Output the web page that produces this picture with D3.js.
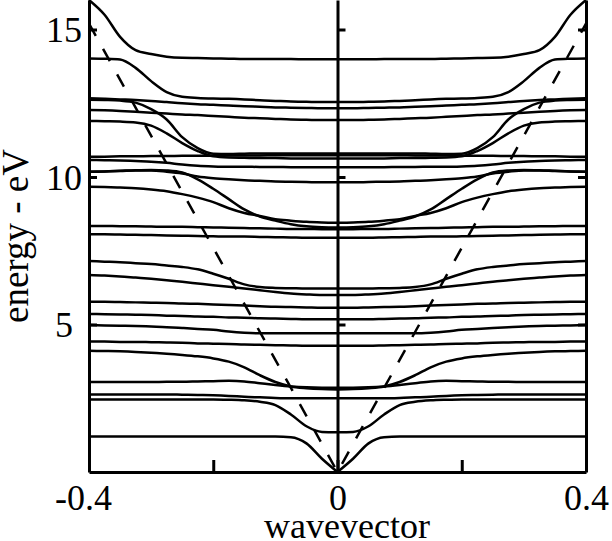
<!DOCTYPE html>
<html>
<head>
<meta charset="utf-8">
<script src="https://cdn.jsdelivr.net/npm/d3@7"></script>
<style>
    body { margin: 0; background: #fff; }
    #chart-area text { font-family: "Liberation Serif", "Times New Roman", serif; fill: #000; }
</style>
</head>
<body>
<div id="chart-area"></div>
<script>

// wavevector grid (half of the zone, mirrored for negative k)
const kGrid = [0, 0.025, 0.05, 0.075, 0.1, 0.125, 0.15, 0.175, 0.2, 0.225, 0.25, 0.275, 0.3, 0.325, 0.35, 0.375, 0.4];

// band energies (eV) at each kGrid value
const band01 = [0, 0.45, 0.97, 1.18, 1.20, 1.20, 1.20, 1.20, 1.20, 1.20, 1.20, 1.20, 1.20, 1.20, 1.20, 1.20, 1.20];
const band02 = [1.35, 1.36, 1.55, 1.95, 2.27, 2.38, 2.43, 2.45, 2.46, 2.46, 2.46, 2.46, 2.46, 2.46, 2.46, 2.46, 2.46];
const band03 = [2.50, 2.50, 2.50, 2.50, 2.51, 2.53, 2.55, 2.58, 2.60, 2.61, 2.62, 2.63, 2.63, 2.63, 2.63, 2.63, 2.63];
const band04 = [2.86, 2.86, 2.87, 2.90, 2.95, 3.01, 3.07, 3.09, 3.08, 3.07, 3.06, 3.06, 3.05, 3.05, 3.05, 3.05, 3.05];
const band05 = [2.80, 2.81, 2.84, 2.90, 3.05, 3.28, 3.55, 3.74, 3.85, 3.92, 3.97, 4.01, 4.04, 4.07, 4.09, 4.10, 4.11];
const band06 = [4.28, 4.28, 4.28, 4.29, 4.30, 4.31, 4.32, 4.34, 4.35, 4.36, 4.38, 4.39, 4.40, 4.41, 4.41, 4.42, 4.42];
const band07 = [4.70, 4.70, 4.70, 4.70, 4.70, 4.70, 4.72, 4.76, 4.82, 4.85, 4.88, 4.91, 4.93, 4.95, 4.96, 4.97, 4.98];
const band08 = [5.18, 5.18, 5.18, 5.19, 5.20, 5.21, 5.23, 5.24, 5.26, 5.27, 5.29, 5.30, 5.32, 5.33, 5.34, 5.35, 5.36];
const band09 = [5.57, 5.57, 5.58, 5.59, 5.60, 5.62, 5.64, 5.66, 5.68, 5.70, 5.71, 5.73, 5.74, 5.75, 5.76, 5.77, 5.77];
const band10 = [6.00, 6.00, 6.02, 6.05, 6.10, 6.16, 6.22, 6.28, 6.33, 6.39, 6.45, 6.50, 6.55, 6.59, 6.63, 6.66, 6.68];
const band11 = [6.22, 6.22, 6.22, 6.23, 6.24, 6.27, 6.36, 6.55, 6.72, 6.87, 6.95, 7.00, 7.05, 7.08, 7.11, 7.13, 7.15];
const band12 = [7.94, 7.94, 7.94, 7.95, 7.96, 7.97, 7.98, 7.98, 7.99, 8.00, 8.01, 8.02, 8.03, 8.04, 8.05, 8.06, 8.06];
const band13 = [8.23, 8.23, 8.24, 8.24, 8.25, 8.26, 8.27, 8.28, 8.29, 8.30, 8.31, 8.31, 8.32, 8.33, 8.33, 8.34, 8.34];
const band14 = [8.45, 8.46, 8.48, 8.52, 8.57, 8.68, 8.78, 8.94, 9.15, 9.30, 9.42, 9.52, 9.58, 9.62, 9.64, 9.66, 9.67];
const band15 = [8.29, 8.30, 8.33, 8.40, 8.52, 8.66, 8.90, 9.25, 9.60, 9.92, 10.15, 10.22, 10.24, 10.23, 10.21, 10.19, 10.18];
const band16 = [9.82, 9.82, 9.83, 9.84, 9.85, 9.87, 9.89, 9.92, 9.96, 10.02, 10.12, 10.18, 10.22, 10.22, 10.20, 10.19, 10.18];
const band17 = [10.33, 10.33, 10.33, 10.33, 10.34, 10.34, 10.35, 10.35, 10.36, 10.38, 10.42, 10.48, 10.52, 10.54, 10.56, 10.57, 10.58];
const band18 = [10.74, 10.74, 10.74, 10.74, 10.74, 10.73, 10.73, 10.73, 10.72, 10.72, 10.72, 10.71, 10.71, 10.70, 10.70, 10.69, 10.69];
const band19 = [10.63, 10.63, 10.63, 10.63, 10.64, 10.64, 10.65, 10.66, 10.70, 10.88, 11.15, 11.48, 11.74, 11.85, 11.88, 11.89, 11.90];
const band20 = [10.80, 10.80, 10.80, 10.80, 10.80, 10.80, 10.79, 10.78, 10.79, 10.98, 11.35, 11.95, 12.30, 12.52, 12.59, 12.61, 12.62];
const band21 = [11.93, 11.93, 11.94, 11.95, 11.97, 11.99, 12.01, 12.04, 12.07, 12.10, 12.12, 12.15, 12.18, 12.21, 12.24, 12.26, 12.27];
const band22 = [12.33, 12.33, 12.34, 12.35, 12.36, 12.38, 12.40, 12.42, 12.45, 12.47, 12.50, 12.54, 12.58, 12.61, 12.63, 12.65, 12.67];
const band23 = [12.54, 12.54, 12.55, 12.56, 12.58, 12.60, 12.63, 12.65, 12.66, 12.68, 12.72, 12.88, 13.25, 13.70, 13.98, 14.01, 14.02];
const band24 = [13.99, 13.99, 13.99, 14.00, 14.00, 14.00, 14.00, 14.01, 14.02, 14.03, 14.04, 14.08, 14.17, 14.30, 14.75, 15.50, 16.00];

const bands = [band01, band02, band03, band04, band05, band06, band07, band08, band09, band10, band11, band12,
    band13, band14, band15, band16, band17, band18, band19, band20, band21, band22, band23, band24];

// free-particle (light line) reference, dashed
const freeK = [-0.4, 0, 0.4];
const freeE = [15.2, 0, 15.2];

// axis ticks
const xTicks = [-0.4, -0.2, 0, 0.2, 0.4];
const xLabelTicks = [-0.4, 0, 0.4];
const yTicks = [5, 10, 15];


class BandChart {

    constructor(parentElement) {
        this.parentElement = parentElement;
        this.initVis();
    }

    initVis() {
        let vis = this;

        vis.width = 612;
        vis.height = 541;
        vis.left = 89;
        vis.right = 586;
        vis.bottom = 472;

        vis.svg = d3.select('#' + vis.parentElement)
            .append('svg')
            .attr("width", vis.width)
            .attr("height", vis.height);

        // scales
        vis.x = d3.scaleLinear()
            .domain([-0.4, 0.4])
            .range([vis.left, vis.right]);

        vis.y = d3.scaleLinear()
            .domain([0, 16])
            .range([vis.bottom, 0]);

        vis.updateVis();
    }

    updateVis() {
        let vis = this;

        // each band drawn as two halves so the cusp at k=0 stays sharp
        let line = d3.line()
            .x(d => vis.x(d[0]))
            .y(d => vis.y(d[1]))
            .curve(d3.curveMonotoneX);

        let halves = [];
        bands.forEach(b => {
            halves.push(kGrid.map((k, i) => [k, b[i]]));
            halves.push(kGrid.map((k, i) => [-k, b[i]]).reverse());
        });

        vis.svg.append("g").attr("class", "bands")
            .selectAll("path")
            .data(halves)
            .enter().append("path")
            .attr("d", line)
            .attr("fill", "none")
            .attr("stroke", "#000")
            .attr("stroke-width", 2.5);

        // dashed light line
        vis.svg.append("path")
            .datum(freeK.map((k, i) => [k, freeE[i]]))
            .attr("d", d3.line().x(d => vis.x(d[0])).y(d => vis.y(d[1])))
            .attr("fill", "none")
            .attr("stroke", "#000")
            .attr("stroke-width", 2.5)
            .attr("stroke-dasharray", "14,15");

        // left axis with labels
        let yAxisLeft = d3.axisLeft(vis.y)
            .tickValues(yTicks)
            .tickSize(-8)
            .tickSizeOuter(0)
            .tickFormat(d3.format("d"));

        let gl = vis.svg.append("g")
            .attr("class", "y-axis")
            .attr("transform", "translate(" + vis.left + ",0)")
            .call(yAxisLeft);
        gl.selectAll("text")
            .attr("x", 64 - vis.left)
            .attr("dy", "0.34em")
            .attr("text-anchor", "middle")
            .style("font-size", "36px");

        // axis on the k=0 line, ticks pointing right
        vis.svg.append("g")
            .attr("class", "y-axis-mid")
            .attr("transform", "translate(" + vis.x(0) + ",0)")
            .call(d3.axisRight(vis.y).tickValues(yTicks).tickSize(8).tickSizeOuter(0).tickFormat(""));

        // right axis, ticks pointing left
        vis.svg.append("g")
            .attr("class", "y-axis-right")
            .attr("transform", "translate(" + vis.right + ",0)")
            .call(d3.axisLeft(vis.y).tickValues(yTicks).tickSize(8).tickSizeOuter(0).tickFormat(""));

        // bottom axis
        let xAxis = d3.axisBottom(vis.x)
            .tickValues(xTicks)
            .tickSize(-12)
            .tickSizeOuter(0)
            .tickFormat(d => xLabelTicks.includes(d) ? String(d) : "");

        let gx = vis.svg.append("g")
            .attr("class", "x-axis")
            .attr("transform", "translate(0," + vis.bottom + ")")
            .call(xAxis);
        gx.selectAll("text")
            .attr("y", 38)
            .attr("dy", 0)
            .attr("dx", d => d < 0 ? "-0.167em" : 0)
            .style("font-size", "36px");

        vis.svg.selectAll(".domain, .tick line")
            .attr("stroke", "#000")
            .attr("stroke-width", 3);

        // axis titles
        vis.svg.append("text")
            .attr("x", 347)
            .attr("y", 538)
            .attr("text-anchor", "middle")
            .style("font-size", "36px")
            .text("wavevector");

        vis.svg.append("text")
            .attr("transform", "translate(28,323) rotate(-90)")
            .attr("text-anchor", "start")
            .style("font-size", "37px")
            .text("energy - eV");
    }
}

let chart = new BandChart("chart-area");

</script>
</body>
</html>
